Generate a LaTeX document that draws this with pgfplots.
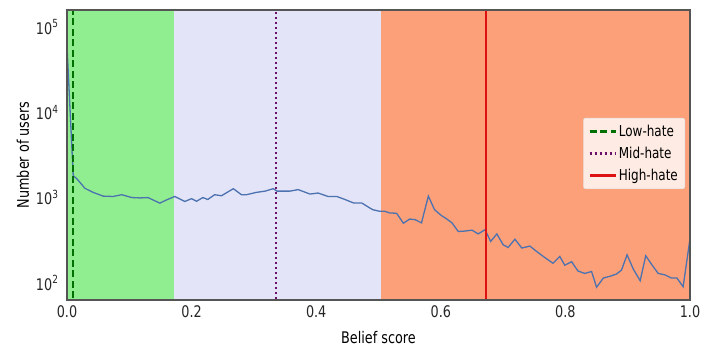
\documentclass[border=0pt]{standalone}
\usepackage{fontspec}
\setmainfont{DejaVu Sans}[FakeStretch=0.8]
\usepackage{pgfplots}
\pgfplotsset{compat=1.18}

\definecolor{lowzone}{HTML}{90EE90}
\definecolor{midzone}{HTML}{E4E4F8}
\definecolor{highzone}{HTML}{FCA07A}
\definecolor{curve}{HTML}{4C72B0}
\definecolor{spine}{HTML}{555555}
\definecolor{lowline}{HTML}{007000}
\definecolor{midline}{HTML}{6A106A}
\definecolor{highline}{HTML}{DD1111}

% histogram of belief scores (users per bin)
\pgfplotstableread{
x y
0.000 60000
0.010 1800
0.0155 1670
0.029 1280
0.042 1150
0.058 1040
0.074 1030
0.088 1080
0.104 1000
0.118 990
0.130 1000
0.149 860
0.160 940
0.173 1030
0.189 900
0.200 970
0.208 905
0.218 1000
0.226 950
0.237 1080
0.248 1050
0.257 1150
0.267 1270
0.280 1080
0.288 1080
0.304 1150
0.318 1190
0.331 1270
0.337 1190
0.358 1190
0.371 1240
0.390 1100
0.403 1130
0.419 1030
0.433 1030
0.446 950
0.460 865
0.473 865
0.486 755
0.491 720
0.502 690
0.510 690
0.518 660
0.529 655
0.540 500
0.550 560
0.559 550
0.569 505
0.580 1040
0.590 720
0.601 615
0.609 565
0.618 505
0.628 400
0.639 405
0.650 415
0.660 375
0.671 420
0.680 306
0.690 375
0.700 280
0.708 260
0.719 325
0.730 256
0.743 270
0.754 233
0.767 198
0.780 170
0.791 204
0.799 161
0.810 177
0.820 138
0.831 129
0.842 136
0.850 89
0.861 114
0.874 121
0.882 127
0.890 141
0.899 213
0.909 145
0.920 106
0.929 208
0.938 166
0.949 129
0.960 124
0.970 114
0.979 114
0.989 90
1.000 330
}\beliefdata

\begin{document}
\begin{tikzpicture}
\begin{axis}[
  scale only axis, width=623pt, height=290pt,
  xmin=0, xmax=1,
  ymode=log, ymin=63, ymax=1.58e5,
  axis line style={spine, line width=1.2pt},
  tick style={draw=none},
  xtick={0,0.2,0.4,0.6,0.8,1},
  xticklabels={0.0,0.2,0.4,0.6,0.8,1.0},
  ytick={100,1000,10000,100000},
  yticklabels={10\textsuperscript{2},10\textsuperscript{3},10\textsuperscript{4},10\textsuperscript{5}},
  ticklabel style={font=\fontsize{16}{19}\selectfont, text=black!85},
  xticklabel style={yshift=-2pt},
  yticklabel style={xshift=-5pt},
  xlabel={Belief score}, ylabel={Number of users},
  xlabel style={at={(axis description cs:0.5,-0.131)}, anchor=center,
    font=\fontsize{16}{19}\selectfont},
  ylabel style={at={(axis description cs:-0.0706,0.5)}, rotate=0, anchor=center,
    font=\fontsize{16}{19}\selectfont},
  axis on top,
  legend style={at={(0.992,0.628)}, anchor=north east,
    fill=white, fill opacity=0.8, text opacity=1, draw=black!15,
    rounded corners=2pt, font=\fontsize{15}{18}\selectfont,
    row sep=5pt, inner xsep=5pt, inner ysep=5pt},
  legend cell align=left,
  legend image code/.code={\draw[#1, line width=2.4pt] (0pt,0pt) -- (26pt,0pt);},
]
% belief bands
\addplot[draw=none, fill=lowzone, forget plot] coordinates {(0,50) (0.172,50) (0.172,2e5) (0,2e5)} -- cycle;
\addplot[draw=none, fill=midzone, forget plot] coordinates {(0.172,50) (0.504,50) (0.504,2e5) (0.172,2e5)} -- cycle;
\addplot[draw=none, fill=highzone, forget plot] coordinates {(0.504,50) (1,50) (1,2e5) (0.504,2e5)} -- cycle;

% distribution
\addplot[curve, line width=1.3pt, forget plot] table[x=x, y=y] {\beliefdata};

% thresholds
\addplot[lowline, line width=2pt, dash pattern=on 7pt off 3.5pt] coordinates {(0.0096,50) (0.0096,2e5)};
\addlegendentry{Low-hate}
\addplot[midline, line width=2pt, dash pattern=on 2pt off 3pt] coordinates {(0.3355,50) (0.3355,2e5)};
\addlegendentry{Mid-hate}
\addplot[highline, line width=2pt] coordinates {(0.6726,50) (0.6726,2e5)};
\addlegendentry{High-hate}
\end{axis}
\pgfresetboundingbox
\path (current axis.south west) ++(-67pt,-47pt) rectangle ([shift={(11pt,10pt)}]current axis.north east);
\end{tikzpicture}
\end{document}
